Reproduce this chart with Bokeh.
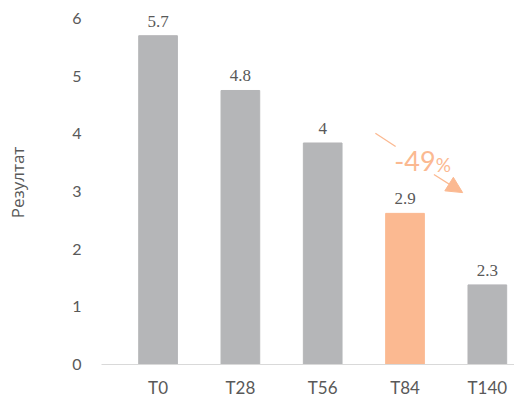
from bokeh.plotting import figure
from bokeh.models import Range1d, FixedTicker, ColumnDataSource, LabelSet, Label, Arrow, NormalHead
from bokeh.embed import file_html
from bokeh.resources import INLINE

categories = ["T0", "T28", "T56", "T84", "T140"]
bar_values = [5.7, 4.75, 3.84, 2.62, 1.38]
value_labels = ["5.7", "4.8", "4", "2.9", "2.3"]
y_ticks = [0, 1, 2, 3, 4, 5, 6]
highlight = "T84"
change_text = "-49"
change_unit = "%"
axis_title = "Резултат"

GRAY = "#B5B6B8"
ORANGE = "#FBB991"
TEXT = "#595959"
FONT = "Lato"

xs = list(range(len(categories)))
colors = [ORANGE if c == highlight else GRAY for c in categories]
src = ColumnDataSource(dict(x=xs, top=bar_values, label=value_labels, color=colors))

p = figure(width=514, height=400, x_range=Range1d(-0.687, 4.33), y_range=Range1d(0, 6.31),
           output_backend="svg", toolbar_location=None,
           min_border_left=101, min_border_right=0, min_border_top=0, min_border_bottom=34)
p.outline_line_color = None
p.grid.visible = False
p.background_fill_color = "white"

p.vbar(x="x", top="top", width=0.47, color="color", source=src)

xa = p.xaxis[0]
xa.ticker = FixedTicker(ticks=xs)
xa.major_label_overrides = {i: c for i, c in zip(xs, categories)}
xa.axis_line_color = "#D9D9D9"
xa.axis_line_width = 1
xa.major_tick_line_color = None
xa.minor_tick_line_color = None
xa.major_label_text_font_size = "17px"
xa.major_label_text_font = FONT
xa.major_label_text_color = TEXT
xa.major_label_standoff = 6

ya = p.yaxis[0]
ya.ticker = FixedTicker(ticks=y_ticks)
ya.axis_line_color = None
ya.major_tick_line_color = None
ya.minor_tick_line_color = None
ya.major_label_text_font_size = "16px"
ya.major_label_text_font = FONT
ya.major_label_text_color = TEXT
ya.major_label_standoff = 14
ya.axis_label = axis_title
ya.axis_label_text_font = "Open Sans"
ya.axis_label_text_font_size = "17px"
ya.axis_label_text_font_style = "normal"
ya.axis_label_text_color = TEXT
ya.axis_label_standoff = 40

labels = LabelSet(x="x", y="top", text="label", source=src, y_offset=9,
                  text_align="center", text_baseline="alphabetic",
                  text_font_size="17px", text_font=FONT, text_color=TEXT)
p.add_layout(labels)

# arrow drawn in two pieces, with a gap where the "-49%" text sits
p.segment(x0=[2.64], y0=[4.01], x1=[2.886], y1=[3.78], line_color=ORANGE, line_width=1.3)
arrow = Arrow(x_start=3.351, y_start=3.293, x_end=3.70, y_end=2.98,
              line_color=ORANGE, line_width=1.3,
              end=NormalHead(size=16, fill_color=ORANGE, line_color=ORANGE))
p.add_layout(arrow)

lab1 = Label(x=3.372, y=3.534, text=change_text, text_align="right", text_baseline="middle",
             text_font_size="27px", text_font=FONT, text_color=ORANGE)
lab2 = Label(x=3.372, y=3.46, text=change_unit, text_align="left", text_baseline="middle",
             text_font_size="19px", text_font=FONT, text_color=ORANGE)
p.add_layout(lab1)
p.add_layout(lab2)

open("out.html", "w").write(file_html(p, INLINE))
